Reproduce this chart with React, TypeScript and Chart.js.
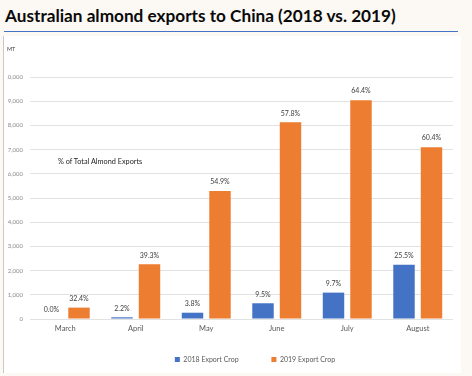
import React, { useEffect, useRef } from "react";
import { Chart, registerables } from "chart.js";

Chart.register(...registerables);

const months = ["March", "April", "May", "June", "July", "August"];
const crop2018 = [0, 70, 260, 650, 1090, 2245];
const crop2019 = [470, 2260, 5290, 8130, 9040, 7100];
const pct2018 = ["0.0%", "2.2%", "3.8%", "9.5%", "9.7%", "25.5%"];
const pct2019 = ["32.4%", "39.3%", "54.9%", "57.8%", "64.4%", "60.4%"];
const seriesNames = ["2018 Export Crop", "2019 Export Crop"];
const yMax = 10000;
const yStep = 1000;

const FONT = "Lato, 'Open Sans', sans-serif";
const BLUE = "#4472c4";
const ORANGE = "#ed7d31";

const pctLabels = {
  id: "pctLabels",
  afterDatasetsDraw(chart: any) {
    const ctx = chart.ctx;
    ctx.save();
    ctx.font = `7px ${FONT}`;
    ctx.fillStyle = "#404040";
    ctx.textAlign = "center";
    ctx.textBaseline = "middle";
    [pct2018, pct2019].forEach((labels, di) => {
      const meta = chart.getDatasetMeta(di);
      meta.data.forEach((bar: any, i: number) => {
        ctx.fillText(labels[i], bar.x, bar.y - 9);
      });
    });
    ctx.restore();
  },
};

const legendShift = {
  id: "legendShift",
  afterLayout(chart: any) {
    if (chart.legend) {
      chart.legend.left += 13.5;
      chart.legend.right += 13.5;
    }
  },
};

export default function App() {
  const ref = useRef<HTMLCanvasElement | null>(null);

  useEffect(() => {
    if (!ref.current) return;
    const chart = new Chart(ref.current, {
      type: "bar",
      data: {
        labels: months,
        datasets: [
          {
            label: seriesNames[0],
            data: crop2018,
            backgroundColor: BLUE,
            categoryPercentage: 0.78,
            barPercentage: 0.78,
          },
          {
            label: seriesNames[1],
            data: crop2019,
            backgroundColor: ORANGE,
            categoryPercentage: 0.78,
            barPercentage: 0.78,
          },
        ],
      },
      options: {
        animation: false,
        responsive: false,
        maintainAspectRatio: false,
        layout: { padding: { top: 41, left: 3, right: 8, bottom: 0 } },
        scales: {
          x: {
            grid: { display: false, drawTicks: false },
            border: { display: false },
            ticks: {
              color: "#595959",
              font: { family: FONT, size: 7.5 },
              padding: 5,
              maxRotation: 0,
            },
            afterFit(scale: any) {
              scale.height = 27;
            },
          },
          y: {
            min: 0,
            max: yMax,
            grid: { color: "#e2e2e2", drawTicks: false, lineWidth: 1 },
            border: { display: false },
            ticks: {
              stepSize: yStep,
              color: "#8a8a8a",
              font: { family: FONT, size: 6 },
              padding: 7,
              callback: (v: any) => Number(v).toLocaleString("en-US"),
            },
            afterFit(scale: any) {
              scale.width = 23;
            },
          },
        },
        plugins: {
          legend: {
            position: "bottom",
            fullSize: false,
            labels: {
              boxWidth: 5,
              boxHeight: 5,
              color: "#595959",
              font: { family: FONT, size: 7 },
              padding: 10,
              generateLabels(c: any) {
                const items = Chart.defaults.plugins.legend.labels.generateLabels(c);
                items.forEach((it: any, i: number) => {
                  if (i === 0) it.text = it.text + "\u2003\u2003\u2003\u2003 ";
                  it.lineWidth = 0;
                });
                return items;
              },
            },
          },
          tooltip: { enabled: false },
        },
      },
      plugins: [pctLabels, legendShift],
    });
    return () => chart.destroy();
  }, []);

  return (
    <div
      style={{
        position: "fixed",
        left: 0,
        top: 0,
        width: 472,
        height: 376,
        background: "#fcf8f3",
        overflow: "hidden",
        fontFamily: FONT,
      }}
    >
      <div
        style={{
          position: "absolute",
          left: 5,
          top: 4,
          fontSize: 17.2,
          fontWeight: 700,
          color: "#0a0a0a",
          whiteSpace: "nowrap",
          lineHeight: "24px",
        }}
      >
        Australian almond exports to China (2018 vs. 2019)
      </div>
      <div
        style={{
          position: "absolute",
          left: 4,
          top: 31,
          width: 454,
          height: 1,
          background: BLUE,
        }}
      />
      <div
        style={{
          position: "absolute",
          left: 3,
          top: 36,
          width: 457,
          height: 337,
          background: "#ffffff",
          borderLeft: "1px solid #c9c9c9",
        }}
      />
      <canvas
        ref={ref}
        width={457}
        height={337}
        style={{ position: "absolute", left: 4, top: 36, width: 457, height: 337 }}
      />
      <div
        style={{
          position: "absolute",
          left: 7,
          top: 46,
          fontSize: 5.5,
          color: "#404040",
          lineHeight: "6px",
        }}
      >
        MT
      </div>
      <div
        style={{
          position: "absolute",
          left: 58,
          top: 158,
          fontSize: 7.3,
          color: "#262626",
          lineHeight: "8px",
          whiteSpace: "nowrap",
        }}
      >
        % of Total Almond Exports
      </div>
    </div>
  );
}
